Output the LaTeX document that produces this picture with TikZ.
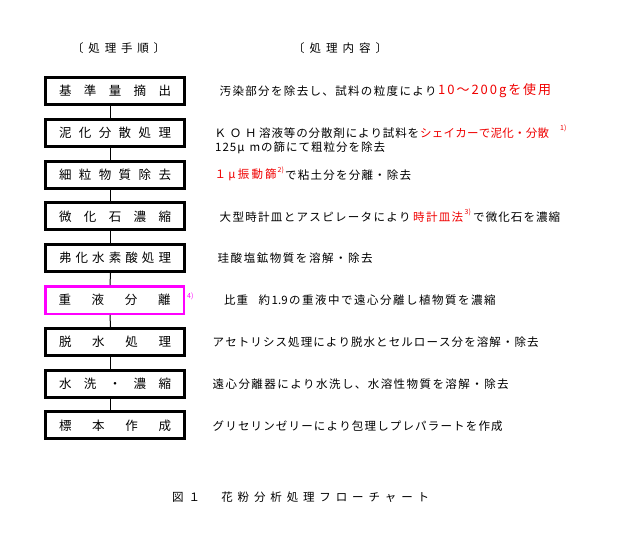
\documentclass[tikz,border=0pt]{standalone}
\usepackage{fontspec}
\newfontfamily\jp{Noto Sans CJK JP}
\definecolor{myred}{RGB}{240,0,0}
\definecolor{mymag}{RGB}{255,0,255}
\def\sprA#1{\ifx\relax#1\else#1\expandafter\sprB\fi}
\def\sprB#1{\ifx\relax#1\else\hfill#1\expandafter\sprB\fi}
\newcommand\spr[2]{\makebox[#1pt][s]{\sprA#2\relax}}
\newcommand\myhs{\hspace{3pt}}
\newcommand\onenine{1.9}
\tikzset{
  procbox/.style={draw=black, line width=3pt, minimum width=139pt, minimum height=27pt,
    inner sep=0pt, font=\jp\fontsize{12.5}{14}\selectfont},
  magbox/.style={procbox, draw=mymag, line width=2.5pt, minimum width=138.5pt, minimum height=27.5pt},
  conn/.style={draw=black, line width=1pt},
  seg/.style={anchor=west, inner sep=0pt, font=\jp\fontsize{11.5}{13}\selectfont},
  bigseg/.style={seg, font=\jp\fontsize{13}{15}\selectfont},
  supnote/.style={anchor=west, inner sep=0pt, font=\jp\fontsize{7}{8}\selectfont},
}
\begin{document}
\begin{tikzpicture}[x=1pt,y=-1pt]
\useasboundingbox[fill=white] (0,0) rectangle (620,533);
% headers
\node[seg] (h1) at (72,48) {\spr{93}{〔処理手順〕}};
\node[seg] (h2) at (293,48) {\spr{94}{〔処理内容〕}};
% boxes
\node[procbox] (b1) at (115,91)    {\spr{112}{基準量摘出}\hspace{6pt}};
\node[procbox] (b2) at (115,132.8) {\spr{112}{泥化分散処理}\hspace{6pt}};
\node[procbox] (b3) at (115,174.6) {\spr{112}{細粒物質除去}\hspace{6pt}};
\node[procbox] (b4) at (115,216.4) {\spr{112}{微化石濃縮}\hspace{6pt}};
\node[procbox] (b5) at (115,258.2) {\spr{112}{弗化水素酸処理}\hspace{6pt}};
\node[magbox]  (b6) at (114.5,300) {\spr{112}{重液分離}\hspace{5pt}};
\node[procbox] (b7) at (115,341.8) {\spr{112}{脱水処理}\hspace{6pt}};
\node[procbox] (b8) at (115,383.6) {\spr{112}{水洗・濃縮}\hspace{6pt}};
\node[procbox] (b9) at (115,425.4) {\spr{112}{標本作成}\hspace{6pt}};
\foreach \a/\b in {b1/b2,b2/b3,b3/b4,b4/b5,b5/b6,b6/b7,b7/b8,b8/b9}
  \draw[conn] ([xshift=-4.5pt]\a.south) -- ([xshift=-4.5pt]\b.north);
% descriptions
\node[seg] (t1a) at (219.5,91) {\spr{217}{汚染部分を除去し、試料の粒度により}};
\node[bigseg, text=myred] (t1b) at (438,91) {\spr{113}{10～200gを使用}};
\node[seg] (t2a) at (214.5,133) {\spr{42}{ＫＯＨ}};
\node[seg] (t2b) at (259,133) {\spr{160}{溶液等の分散剤により試料を}};
\node[seg, text=myred] (t2c) at (420,133) {\spr{129}{シェイカーで泥化・分散}};
\node[supnote, text=myred] (s1) at (560,128) {1)};
\node[seg] (t3) at (215,148) {\spr{170}{125μ\myhs mの篩にて粗粒分を除去}};
\node[seg, text=myred] (t4a) at (214.5,175) {\spr{62}{１μ振動篩}};
\node[supnote, text=myred] (s2) at (277.5,170) {2)};
\node[seg] (t4b) at (285,175) {\spr{126}{で粘土分を分離・除去}};
\node[seg] (t5a) at (219.5,217) {\spr{191}{大型時計皿とアスピレータにより}};
\node[seg, text=myred] (t5b) at (413,217) {\spr{50}{時計皿法}};
\node[supnote, text=myred] (s3) at (464.5,212) {3)};
\node[seg] (t5c) at (473,217) {\spr{87}{で微化石を濃縮}};
\node[seg] (t6) at (217.5,258) {\spr{155}{珪酸塩鉱物質を溶解・除去}};
\node[supnote, text=mymag] (s4) at (187,296) {4)};
\node[seg] (t7a) at (224,300) {\spr{24}{比重}};
\node[seg] (t7b) at (258.5,300) {\spr{237}{約\onenine の重液中で遠心分離し植物質を濃縮}};
\node[seg] (t8) at (212.5,342) {\spr{326}{アセトリシス処理により脱水とセルロース分を溶解・除去}};
\node[seg] (t9) at (212.5,384) {\spr{296}{遠心分離器により水洗し、水溶性物質を溶解・除去}};
\node[seg] (t10) at (212.5,426) {\spr{290}{グリセリンゼリーにより包理しプレパラートを作成}};
% caption
\node[seg] (cap) at (172,497) {\spr{257}{図１　花粉分析処理フローチャート}};
\end{tikzpicture}
\end{document}
